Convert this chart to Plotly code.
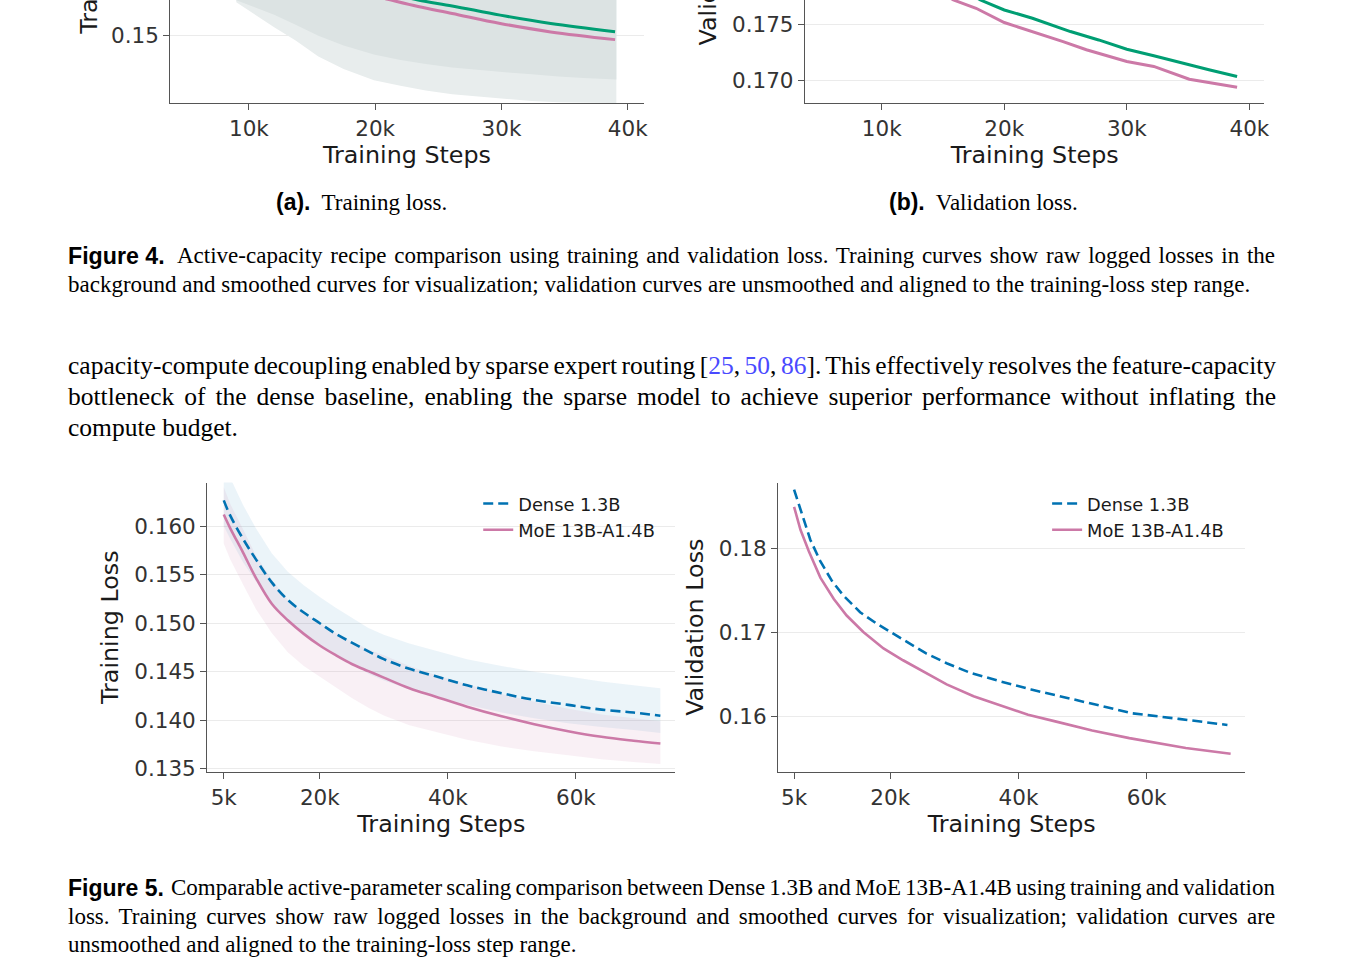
import plotly.graph_objects as go

W, H = 1353, 980

# ---------------- data ----------------
# Figure 4a: smoothed training loss (two recipes) and raw-loss envelope
f4a_steps = [15000, 18000, 21000, 23400, 26100, 29900, 33900, 39000]
f4a_green = [0.1596, 0.1577, 0.1562, 0.15514, 0.15429, 0.15296, 0.15176, 0.15057]
f4a_pink = [0.1582, 0.1566, 0.15525, 0.15420, 0.15320, 0.15176, 0.15054, 0.14943]

f4a_raw_steps = [9000, 10500, 12000, 13700, 15500, 17500, 19900, 22000, 24000, 26100, 28500, 30500, 32400, 34500, 36500, 38600, 39100]
f4a_raw_hi = [0.1600, 0.1600, 0.1600, 0.1600, 0.1600, 0.1600, 0.1600, 0.1600, 0.1600, 0.1600, 0.1600, 0.1600, 0.1600, 0.1600, 0.1600, 0.1600, 0.1600]
f4a_core_lo = [0.1551, 0.1540, 0.1530, 0.15157, 0.1500, 0.1486, 0.14729, 0.1465, 0.1459, 0.14543, 0.1450, 0.1447, 0.14443, 0.1441, 0.1439, 0.14371, 0.1437]
f4a_spike_lo = [0.1548, 0.1530, 0.1512, 0.1493, 0.1470, 0.1452, 0.14357, 0.1428, 0.1421, 0.14157, 0.1412, 0.1409, 0.14057, 0.1404, 0.1403, 0.1403, 0.1403]

# Figure 4b: validation loss (two recipes)
f4b_green_steps = [14000, 16000, 18050, 20000, 22300, 25400, 27700, 30000, 32200, 34500, 36700, 39000]
f4b_green = [0.1805, 0.1786, 0.17719, 0.1763, 0.17556, 0.17437, 0.17362, 0.17279, 0.1722, 0.17154, 0.17095, 0.17035]
f4b_pink_steps = [12000, 14000, 15850, 17700, 20000, 22300, 24800, 26700, 30000, 32200, 35100, 39000]
f4b_pink = [0.1805, 0.1785, 0.17719, 0.17645, 0.17518, 0.17437, 0.17347, 0.17274, 0.17169, 0.17125, 0.17011, 0.1694]

# Figure 5a: training loss, Dense 1.3B vs MoE 13B-A1.4B
f5a_steps = [5000, 6000, 8000, 10000, 12500, 15000, 17500, 20000, 22500, 25000, 27600, 30000, 34000,
             38000, 43000, 48400, 53500, 58800, 64000, 69000, 73200]
dense_smooth = [0.16265, 0.1611, 0.1587, 0.1566, 0.1542, 0.1524, 0.1511, 0.1500, 0.1489, 0.1480, 0.1471,
                0.1463, 0.1453, 0.14455, 0.1436, 0.14279, 0.1421, 0.14159, 0.1411, 0.1408, 0.14047]
moe_smooth = [0.1612, 0.1598, 0.1573, 0.1547, 0.1520, 0.1503, 0.1489, 0.1477, 0.1467, 0.1458, 0.14506,
              0.1444, 0.1433, 0.14245, 0.1414, 0.14041, 0.1396, 0.13888, 0.1383, 0.1379, 0.13761]
dense_raw_hi = [0.1665, 0.1650, 0.1622, 0.1598, 0.1572, 0.1553, 0.1539, 0.1527, 0.1516, 0.1506, 0.1495,
                0.1488, 0.1479, 0.1472, 0.1463, 0.1456, 0.1450, 0.1445, 0.1440, 0.1436, 0.1433]
dense_raw_lo = [0.1600, 0.1587, 0.1563, 0.1543, 0.1519, 0.1501, 0.1489, 0.1478, 0.1468, 0.1459, 0.1448,
                0.1441, 0.1432, 0.1425, 0.1416, 0.1408, 0.1402, 0.1397, 0.1393, 0.1390, 0.1387]
moe_raw_hi = [0.1640, 0.1623, 0.1597, 0.1570, 0.1545, 0.1524, 0.1511, 0.1500, 0.1490, 0.1481, 0.1473,
              0.1467, 0.1456, 0.1447, 0.1437, 0.1427, 0.1419, 0.1412, 0.1406, 0.1402, 0.1399]
moe_raw_lo = [0.1582, 0.1566, 0.1540, 0.1515, 0.1490, 0.1470, 0.1456, 0.1445, 0.1434, 0.1423, 0.1413,
              0.1405, 0.1395, 0.1388, 0.1380, 0.1373, 0.1368, 0.1364, 0.1360, 0.1357, 0.1355]

# Figure 5b: validation loss
f5b_dense_steps = [5000, 6240, 7530, 9090, 10900, 12730, 15300, 17900, 20500, 25600, 28800, 32500, 36600,
                   42000, 48000, 52500, 57800, 65000, 72600]
f5b_dense = [0.18708, 0.18425, 0.1811, 0.17854, 0.17618, 0.1744, 0.17244, 0.17106, 0.16988, 0.16752, 0.16635,
             0.1652, 0.1643, 0.1632, 0.16213, 0.1613, 0.16036, 0.1597, 0.15897]
f5b_moe_steps = [5000, 6000, 7300, 9100, 11200, 13200, 15800, 18950, 22000, 25600, 28800, 33000, 37100,
                 41500, 45900, 51500, 57300, 62000, 66100, 73100]
f5b_moe = [0.18503, 0.18228, 0.17972, 0.17657, 0.17401, 0.17204, 0.17008, 0.16811, 0.1667, 0.16512, 0.16382,
           0.1624, 0.16134, 0.1602, 0.15937, 0.1583, 0.1574, 0.1568, 0.15621, 0.15554]

top_xticks = [10000, 20000, 30000, 40000]
top_xlabels = ["10k", "20k", "30k", "40k"]
bot_xticks = [5000, 20000, 40000, 60000]
bot_xlabels = ["5k", "20k", "40k", "60k"]

GREEN = "#009E73"
PINK = "#CC79A7"
BLUE = "#0072B2"
CHART_FONT = "DejaVu Sans"
SERIF = "Liberation Serif"
SANS = "Liberation Sans"


def px_x(x):
    return x / W


def px_y(y):
    return 1 - y / H


fig = go.Figure()

# ---- Figure 4a ----
fig.add_trace(go.Scatter(x=f4a_raw_steps, y=f4a_spike_lo, mode="lines", line=dict(width=0),
                         showlegend=False, hoverinfo="skip", xaxis="x", yaxis="y"))
fig.add_trace(go.Scatter(x=f4a_raw_steps, y=f4a_raw_hi, mode="lines", line=dict(width=0), fill="tonexty",
                         fillcolor="#e8eded", showlegend=False, hoverinfo="skip", xaxis="x", yaxis="y"))
fig.add_trace(go.Scatter(x=f4a_raw_steps, y=f4a_core_lo, mode="lines", line=dict(width=0),
                         showlegend=False, hoverinfo="skip", xaxis="x", yaxis="y"))
fig.add_trace(go.Scatter(x=f4a_raw_steps, y=f4a_raw_hi, mode="lines", line=dict(width=0), fill="tonexty",
                         fillcolor="#dce3e3", showlegend=False, hoverinfo="skip", xaxis="x", yaxis="y"))
fig.add_trace(go.Scatter(x=f4a_steps, y=f4a_green, mode="lines", line=dict(color=GREEN, width=3, shape="spline"),
                         showlegend=False, xaxis="x", yaxis="y"))
fig.add_trace(go.Scatter(x=f4a_steps, y=f4a_pink, mode="lines", line=dict(color=PINK, width=3, shape="spline"),
                         showlegend=False, xaxis="x", yaxis="y"))

# ---- Figure 4b ----
fig.add_trace(go.Scatter(x=f4b_green_steps, y=f4b_green, mode="lines", line=dict(color=GREEN, width=3),
                         showlegend=False, xaxis="x2", yaxis="y2"))
fig.add_trace(go.Scatter(x=f4b_pink_steps, y=f4b_pink, mode="lines", line=dict(color=PINK, width=3),
                         showlegend=False, xaxis="x2", yaxis="y2"))

# ---- Figure 5a ----
for lo, hi, col in [(dense_raw_lo, dense_raw_hi, "rgba(0,114,178,0.08)"),
                    (moe_raw_lo, moe_raw_hi, "rgba(204,121,167,0.11)")]:
    fig.add_trace(go.Scatter(x=f5a_steps, y=lo, mode="lines", line=dict(width=0),
                             showlegend=False, hoverinfo="skip", xaxis="x3", yaxis="y3"))
    fig.add_trace(go.Scatter(x=f5a_steps, y=hi, mode="lines", line=dict(width=0), fill="tonexty",
                             fillcolor=col, showlegend=False, hoverinfo="skip", xaxis="x3", yaxis="y3"))
fig.add_trace(go.Scatter(x=f5a_steps, y=dense_smooth, mode="lines", name="Dense 1.3B",
                         line=dict(color=BLUE, width=2.6, dash="10px,5px", shape="spline"),
                         legend="legend", legendgroup="d1", xaxis="x3", yaxis="y3"))
fig.add_trace(go.Scatter(x=f5a_steps, y=moe_smooth, mode="lines", name="MoE 13B-A1.4B",
                         line=dict(color=PINK, width=2.6, shape="spline"),
                         legend="legend", legendgroup="m1", xaxis="x3", yaxis="y3"))

# ---- Figure 5b ----
fig.add_trace(go.Scatter(x=f5b_dense_steps, y=f5b_dense, mode="lines", name="Dense 1.3B",
                         line=dict(color=BLUE, width=2.6, dash="10px,5px"),
                         legend="legend2", legendgroup="d2", xaxis="x4", yaxis="y4"))
fig.add_trace(go.Scatter(x=f5b_moe_steps, y=f5b_moe, mode="lines", name="MoE 13B-A1.4B",
                         line=dict(color=PINK, width=2.6),
                         legend="legend2", legendgroup="m2", xaxis="x4", yaxis="y4"))

tick_font = dict(family=CHART_FONT, size=21.5, color="#333333")
title_font = dict(family=CHART_FONT, size=23.8, color="#1a1a1a")
axis_common = dict(showline=True, linecolor="#555555", linewidth=1.3, ticks="outside", ticklen=6,
                   tickwidth=1.3, tickcolor="#555555", tickfont=tick_font, zeroline=False)
xcommon = dict(axis_common, showgrid=False)
ycommon = dict(axis_common, showgrid=True, gridcolor="#ebebeb", gridwidth=1)
legend_common = dict(xanchor="left", yanchor="top", bgcolor="rgba(0,0,0,0)", traceorder="normal",
                     tracegroupgap=2, font=dict(family=CHART_FONT, size=17.8, color="#1a1a1a"))

fig.update_layout(
    width=W, height=H, autosize=False,
    margin=dict(l=0, r=0, t=0, b=0, pad=0),
    paper_bgcolor="white", plot_bgcolor="white",
    xaxis=dict(xcommon, domain=[px_x(171), px_x(646)], range=[3780, 41260], anchor="y",
               tickvals=top_xticks, ticktext=top_xlabels,
               title=dict(text="Training Steps", font=title_font, standoff=3)),
    yaxis=dict(ycommon, domain=[px_y(104), 1], range=[0.14029, 0.15514], anchor="x",
               tickvals=[0.15], ticktext=["0.15"]),
    xaxis2=dict(xcommon, domain=[px_x(808), px_x(1269)], range=[3740, 41220], anchor="y2",
                tickvals=top_xticks, ticktext=top_xlabels,
                title=dict(text="Training Steps", font=title_font, standoff=3)),
    yaxis2=dict(ycommon, domain=[px_y(104), 1], range=[0.16798, 0.17719], anchor="x2",
                tickvals=[0.170, 0.175], ticktext=["0.170", "0.175"]),
    xaxis3=dict(xcommon, domain=[px_x(208), px_x(678)], range=[2420, 75560], anchor="y3",
                tickvals=bot_xticks, ticktext=bot_xlabels,
                title=dict(text="Training Steps", font=title_font, standoff=3)),
    yaxis3=dict(ycommon, domain=[px_y(779), px_y(487)], range=[0.13469, 0.16449], anchor="x3",
                tickvals=[0.135, 0.140, 0.145, 0.150, 0.155, 0.160],
                ticktext=["0.135", "0.140", "0.145", "0.150", "0.155", "0.160"],
                title=dict(text="Training Loss", font=title_font, standoff=8)),
    xaxis4=dict(xcommon, domain=[px_x(781), px_x(1250)], range=[2510, 75400], anchor="y4",
                tickvals=bot_xticks, ticktext=bot_xlabels,
                title=dict(text="Training Steps", font=title_font, standoff=3)),
    yaxis4=dict(ycommon, domain=[px_y(779), px_y(487)], range=[0.15337, 0.18793], anchor="x4",
                tickvals=[0.16, 0.17, 0.18], ticktext=["0.16", "0.17", "0.18"],
                title=dict(text="Validation Loss", font=title_font, standoff=8)),
    legend=dict(legend_common, x=px_x(480), y=px_y(490)),
    legend2=dict(legend_common, x=px_x(1051), y=px_y(490)),
)

# cropped y-axis titles of the upper figure (cut by the page edge, as in the source)
fig.add_annotation(text="Training Loss", textangle=-90, xref="paper", yref="paper",
                   x=px_x(89), y=px_y(37), xanchor="center", yanchor="bottom",
                   showarrow=False, font=title_font)
fig.add_annotation(text="Validation Loss", textangle=-90, xref="paper", yref="paper",
                   x=px_x(711), y=px_y(48), xanchor="center", yanchor="bottom",
                   showarrow=False, font=title_font)


def note(text, x, y, xanchor="left", size=23, family=SERIF, spacing=None, weight=None):
    if spacing is not None:
        text = '<span style="word-spacing:{}px">{}</span>'.format(spacing, text)
    font = dict(family=family, size=size, color="#000000")
    if weight:
        font["weight"] = weight
    fig.add_annotation(text=text, xref="paper", yref="paper", x=px_x(x), y=px_y(y),
                       xanchor=xanchor, yanchor="middle", showarrow=False, font=font)


bold = '<span style="font-family:Liberation Sans;font-weight:bold">{}</span>'
cite = '<span style="color:#4a4aff">{}</span>'

# sub-captions
note(bold.format("(a).") + "&nbsp; Training loss.", 363, 204, xanchor="center")
note(bold.format("(b).") + "&nbsp; Validation loss.", 987, 204, xanchor="center")

# Figure 4 caption
note("Figure 4.", 66, 258, family=SANS, size=23.2, weight="bold")
note("Active-capacity recipe comparison using training and validation loss. Training curves show raw logged losses in the",
     176, 258, spacing=2.0)
note("background and smoothed curves for visualization; validation curves are unsmoothed and aligned to the training-loss step range.",
     66, 287)

# body paragraph
note("capacity-compute decoupling enabled by sparse expert routing [" + cite.format("25") + ", " + cite.format("50")
     + ", " + cite.format("86") + "]. This effectively resolves the feature-capacity", 66, 369, size=25.5, spacing=-1.9)
note("bottleneck of the dense baseline, enabling the sparse model to achieve superior performance without inflating the",
     66, 400, size=25.5, spacing=3.6)
note("compute budget.", 66, 431, size=25.5)

# Figure 5 caption
note("Figure 5.", 66, 896, family=SANS, size=23.0, weight="bold")
note("Comparable active-parameter scaling comparison between Dense 1.3B and MoE 13B-A1.4B using training and validation",
     170, 896, spacing=-1.6)
note("loss. Training curves show raw logged losses in the background and smoothed curves for visualization; validation curves are",
     66, 925, spacing=3.6)
note("unsmoothed and aligned to the training-loss step range.", 66, 953)

fig.write_html(
    "out.html",
    config={"displayModeBar": False},
    post_script=("document.documentElement.style.overflow='hidden';"
                 "document.body.style.margin='0';document.body.style.overflow='hidden';"),
)
